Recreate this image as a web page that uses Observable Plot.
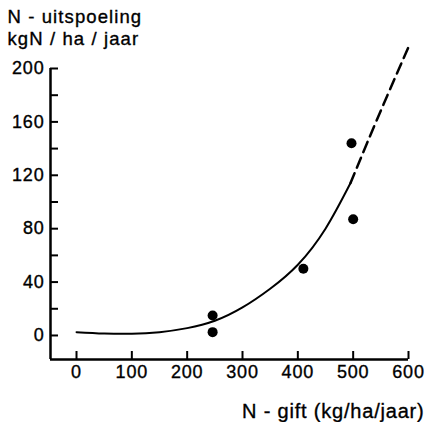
<!DOCTYPE html>
<html>
<head>
<meta charset="utf-8">
<script src="https://cdn.jsdelivr.net/npm/d3@7"></script>
<script src="https://cdn.jsdelivr.net/npm/@observablehq/plot@0.6"></script>
<style>
  html, body { margin: 0; padding: 0; background: #fff; }
  #chart svg text { letter-spacing: 0.8px; stroke: #000; stroke-width: 0.35px; }
  #chart svg .title text { letter-spacing: 1.1px; }
</style>
</head>
<body>
<div id="chart"></div>
<script>
// Data
const obsGift = [246, 246, 410, 497, 500];
const obsUitspoeling = [15, 2.5, 50, 144, 87];

const fitSolidX = [0, 50, 100, 150, 200, 250, 300, 350, 400, 450, 495];
const fitSolidY = [2.5, 1.5, 1.3, 2.5, 5.5, 11, 21, 35, 53, 80, 114];
const fitDashX = [495, 525, 562, 600];
const fitDashY = [114, 144, 180, 216];

const xTicks = [0, 100, 200, 300, 400, 500, 600];
const yTicksMajor = [0, 40, 80, 120, 160, 200];
const yTicksMinor = [20, 60, 100, 140, 180];

const yLabel1 = "N - uitspoeling";
const yLabel2 = "kgN / ha / jaar";
const xLabel = "N - gift (kg/ha/jaar)";

const xDomain = [-47, 600];
const yDomain = [-18, 200];

const W = 428, H = 422;
const mL = 50, mR = 20, mT = 68, mB = 63;
const plotW = W - mL - mR, plotH = H - mT - mB;

const points = obsGift.map((x, i) => ({x, y: obsUitspoeling[i]}));
const solid = fitSolidX.map((x, i) => ({x, y: fitSolidY[i]}));
const dashed = fitDashX.map((x, i) => ({x, y: fitDashY[i]}));

const font = "'Liberation Sans', Arial, Helvetica, sans-serif";

const chart = Plot.plot({
  width: W,
  height: H,
  marginLeft: mL,
  marginRight: mR,
  marginTop: mT,
  marginBottom: mB,
  style: {fontFamily: font, fontSize: "18px", color: "#000", background: "#fff", overflow: "visible"},
  x: {domain: xDomain},
  y: {domain: yDomain},
  marks: [
    // axis lines
    Plot.ruleX([xDomain[0]], {y1: yDomain[0], y2: yDomain[1], stroke: "#000", strokeWidth: 2.5}),
    Plot.ruleY([yDomain[0]], {x1: xDomain[0], x2: xDomain[1], stroke: "#000", strokeWidth: 2.5}),
    // inward ticks
    Plot.tickY(yTicksMajor.concat(yTicksMinor), {y: d => d, insetRight: plotW - 8, stroke: "#000", strokeWidth: 2}),
    Plot.tickX(xTicks, {x: d => d, insetTop: plotH - 8, stroke: "#000", strokeWidth: 2}),
    // tick labels
    Plot.axisY({ticks: yTicksMajor, tickSize: 0, tickPadding: 6, fontSize: 18, label: null}),
    Plot.axisX({ticks: xTicks, tickSize: 0, tickPadding: 6, fontSize: 18, label: null}),
    // fitted curve
    Plot.line(solid, {x: "x", y: "y", curve: "natural", stroke: "#000", strokeWidth: 2}),
    Plot.line(dashed, {x: "x", y: "y", curve: "natural", stroke: "#000", strokeWidth: 2.5, strokeDasharray: "11,6"}),
    // observations
    Plot.dot(points, {x: "x", y: "y", r: 5, fill: "#000", stroke: "none"}),
    // labels
    Plot.text([yLabel1], {text: d => d, frameAnchor: "top-left", textAnchor: "start", lineAnchor: "bottom", dx: -43, dy: -46, fontSize: 18.5, className: "title"}),
    Plot.text([yLabel2], {text: d => d, frameAnchor: "top-left", textAnchor: "start", lineAnchor: "bottom", dx: -43, dy: -24, fontSize: 18.5, className: "title"}),
    Plot.text([xLabel], {text: d => d, frameAnchor: "bottom-right", textAnchor: "end", lineAnchor: "bottom", dx: 16, dy: 58, fontSize: 20})
  ]
});
document.getElementById("chart").appendChild(chart);
</script>
</body>
</html>
